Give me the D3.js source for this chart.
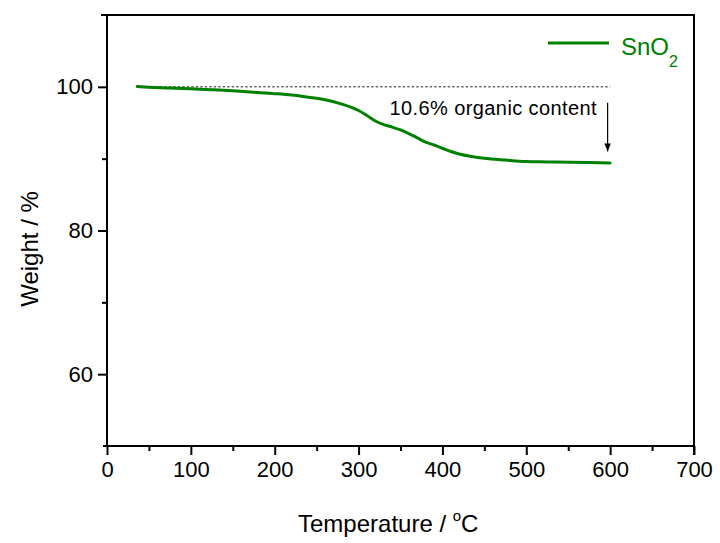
<!DOCTYPE html>
<html>
<head>
<meta charset="utf-8">
<script src="https://cdn.jsdelivr.net/npm/d3@7"></script>
<style>
  body { margin: 0; background: #fff; }
  svg { display: block; font-family: "Liberation Sans", Arial, sans-serif; }
</style>
</head>
<body>
<svg id="chart" width="720" height="543"></svg>
<script>
// TGA curve of SnO2: temperature (°C) vs remaining weight (%)
const temperature = [36, 50, 75, 100, 125, 150, 175, 200, 220, 240, 260, 280, 300, 310, 320, 330, 340, 350, 360, 370, 380, 390, 400, 410, 420, 435, 450, 475, 500, 525, 550, 575, 600];
const weight = [100.05, 99.95, 99.85, 99.72, 99.6, 99.45, 99.25, 99.05, 98.85, 98.55, 98.2, 97.6, 96.7, 96.0, 95.25, 94.75, 94.4, 94.0, 93.5, 92.9, 92.3, 91.9, 91.45, 91.0, 90.65, 90.3, 90.05, 89.8, 89.6, 89.55, 89.5, 89.45, 89.4];

const xTicks = [0, 100, 200, 300, 400, 500, 600, 700];
const yTicks = [60, 80, 100];
const xMinorTicks = [50, 150, 250, 350, 450, 550, 650];
const yMinorTicks = [70, 90];

const seriesName = "SnO";
const seriesSub = "2";
const annotationText = "10.6% organic content";
const referenceLevel = 100;           // initial weight (%)
const referenceSpan = [36, 600];      // temperature span of the dotted reference line
const arrowTemp = 597;                 // temperature of the annotation arrow
const arrowRange = [97.8, 91.0];       // weight range covered by the arrow

const green = "#008000";
const svg = d3.select("#chart");
const m = { left: 107, right: 694, top: 15, bottom: 446 };

const x = d3.scaleLinear().domain([0, 700]).range([m.left, m.right]);
const y = d3.scaleLinear().domain([50, 110]).range([m.bottom, m.top]);

// frame: top and right borders
svg.append("path")
  .attr("d", `M${m.left - 6},${m.top}H${m.right}V${m.bottom}`)
  .attr("fill", "none").attr("stroke", "#000").attr("stroke-width", 2);

// bottom axis
const xAxis = svg.append("g").attr("transform", `translate(0,${m.bottom})`)
  .call(d3.axisBottom(x).tickValues(xTicks).tickSize(9).tickPadding(6).tickFormat(d3.format("d")));
svg.append("g").attr("transform", `translate(0,${m.bottom})`)
  .call(d3.axisBottom(x).tickValues(xMinorTicks).tickSize(5).tickFormat(""))
  .call(g => g.select(".domain").remove());

// left axis
const yAxis = svg.append("g").attr("transform", `translate(${m.left},0)`)
  .call(d3.axisLeft(y).tickValues(yTicks).tickSize(9).tickPadding(5).tickFormat(d3.format("d")));
svg.append("g").attr("transform", `translate(${m.left},0)`)
  .call(d3.axisLeft(y).tickValues(yMinorTicks).tickSize(5).tickFormat(""))
  .call(g => g.select(".domain").remove());

svg.selectAll(".domain").attr("stroke-width", 2);
svg.selectAll(".tick line").attr("stroke-width", 2);
svg.selectAll(".tick text").attr("font-size", 22).attr("fill", "#000")
  .attr("font-family", "'Liberation Sans', Arial, sans-serif");
xAxis.selectAll(".domain").attr("d", `M${m.left - 4},0H${m.right}V9`);
yAxis.selectAll(".domain").attr("d", `M0,${m.top}V${m.bottom + 1}`);

// axis titles
const title = svg.append("text").attr("x", 298).attr("y", 532)
  .attr("font-size", 24).attr("fill", "#000");
title.append("tspan").text("Temperature / ");
title.append("tspan").attr("font-size", 15).attr("dy", -11).text("o");
title.append("tspan").attr("dy", 11).text("C");

svg.append("text")
  .attr("transform", `translate(38,249) rotate(-90)`)
  .attr("text-anchor", "middle").attr("font-size", 24).attr("fill", "#000")
  .text("Weight / %");

// dotted reference at the initial weight
svg.append("line")
  .attr("x1", x(referenceSpan[0])).attr("x2", x(referenceSpan[1]))
  .attr("y1", y(referenceLevel)).attr("y2", y(referenceLevel))
  .attr("stroke", "#222").attr("stroke-width", 1).attr("stroke-dasharray", "2.5,2");

// TGA curve
const pts = temperature.map((t, i) => [t, weight[i]]);
svg.append("path").datum(pts)
  .attr("fill", "none").attr("stroke", green).attr("stroke-width", 3)
  .attr("stroke-linejoin", "round").attr("stroke-linecap", "round")
  .attr("d", d3.line().x(d => x(d[0])).y(d => y(d[1])).curve(d3.curveMonotoneX));

// annotation arrow and text
svg.append("defs").append("marker")
  .attr("id", "arrowhead").attr("viewBox", "0 0 10 10")
  .attr("refX", 10).attr("refY", 5).attr("markerWidth", 8).attr("markerHeight", 8)
  .attr("markerUnits", "userSpaceOnUse").attr("orient", "auto")
  .append("path").attr("d", "M0,1L10,5L0,9Z").attr("fill", "#000");
svg.append("line")
  .attr("x1", x(arrowTemp)).attr("x2", x(arrowTemp))
  .attr("y1", y(arrowRange[0])).attr("y2", y(arrowRange[1]))
  .attr("stroke", "#000").attr("stroke-width", 1.2)
  .attr("marker-end", "url(#arrowhead)");
svg.append("text")
  .attr("x", 597).attr("y", 115).attr("text-anchor", "end")
  .attr("font-size", 20).attr("letter-spacing", 0.4).attr("fill", "#000").text(annotationText);

// legend
svg.append("line").attr("x1", 548).attr("x2", 609).attr("y1", 43).attr("y2", 43)
  .attr("stroke", green).attr("stroke-width", 3);
const leg = svg.append("text").attr("x", 621).attr("y", 55)
  .attr("font-size", 24).attr("fill", green);
leg.append("tspan").text(seriesName);
leg.append("tspan").attr("font-size", 16).attr("dy", 12).text(seriesSub);
</script>
</body>
</html>
